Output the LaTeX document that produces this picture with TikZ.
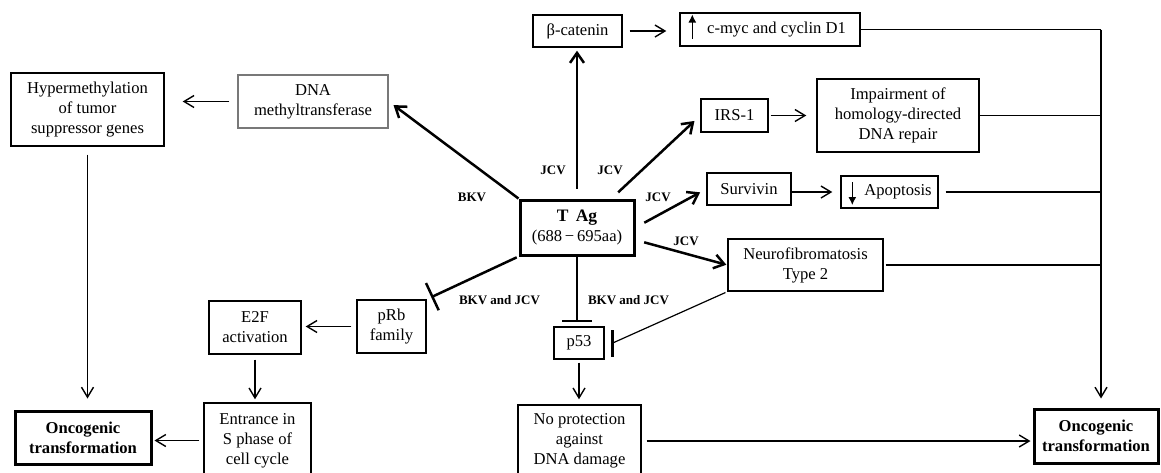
\documentclass[tikz,border=0pt]{standalone}
\usepackage{fontspec}
\setmainfont{Liberation Serif}
\usetikzlibrary{arrows.meta}
\begin{document}
\begin{tikzpicture}[x=1pt,y=-1pt,
  box/.style={draw, line width=1.4pt, align=center, inner sep=0pt, font=\fontsize{16.6}{20}\selectfont},
  thickbox/.style={box, line width=3pt},
  grbox/.style={box, draw={rgb,255:red,120;green,120;blue,120}},
  plain/.style={line width=1.4pt},
  arr/.style={line width=1.4pt, -{Straight Barb[length=10pt,width=12pt,line width=1.4pt]}},
  tarr/.style={line width=2.5pt, -{Straight Barb[length=10pt,width=14pt,line width=2.5pt]}},
  inh/.style={line width=2.5pt, -{Bar[width=30pt,line width=2.5pt]}},
  updown/.style={line width=1.2pt, -{Latex[length=8pt,width=8pt]}},
  lab/.style={font=\fontsize{13}{15}\selectfont\bfseries, inner sep=0pt}]
\useasboundingbox (0,0) rectangle (1161,472);

% nodes
\node[box, minimum width=153pt, minimum height=73pt] (hyp) at (87.5,109.5) {Hypermethylation\\of tumor\\suppressor genes};
\node[grbox, minimum width=150pt, minimum height=53pt] (dna) at (313,101.5) {DNA\\methyltransferase};
\node[box, minimum width=89pt, minimum height=32pt] (bcat) at (577.5,31) {β-catenin};
\node[box, minimum width=180pt, minimum height=33pt] (cmyc) at (770,29.5) {\hspace*{13pt}c-myc and cyclin D1};
\node[box, minimum width=67pt, minimum height=33pt] (irs) at (734.5,115.5) {IRS-1};
\node[box, minimum width=162pt, minimum height=73pt] (imp) at (898,115.5) {Impairment of\\homology-directed\\DNA repair};
\node[box, minimum width=84pt, minimum height=32pt] (surv) at (749,189) {Survivin};
\node[box, minimum width=97pt, minimum height=32pt] (apop) at (889.5,192) {\hspace*{17pt}Apoptosis};
\node[box, minimum width=155pt, minimum height=52pt] (neuro) at (805.5,265) {Neurofibromatosis\\Type 2};
\node[thickbox, minimum width=114pt, minimum height=55pt] (tag) at (577,227.5) {{\fontsize{17.5}{20}\selectfont\bfseries T\, Ag}\\(688\,−\,695aa)};
\node[box, minimum width=69pt, minimum height=53pt] (prb) at (391.5,326.5) {pRb\\family};
\node[box, minimum width=92pt, minimum height=53pt] (e2f) at (255,327.5) {E2F\\activation};
\node[box, minimum width=107pt, minimum height=75pt] (entr) at (257.5,440.5) {Entrance in\\S phase of\\cell cycle};
\node[thickbox, minimum width=136pt, minimum height=53pt, font=\fontsize{16.6}{20}\selectfont\bfseries] (oncL) at (83,437.5) {Oncogenic\\transformation};
\node[box, minimum width=50pt, minimum height=32pt] (p53) at (579,343) {p53};
\node[box, minimum width=123pt, minimum height=72pt] (noprot) at (579.5,441) {No protection\\against\\DNA damage};
\node[thickbox, minimum width=124pt, minimum height=54pt, font=\fontsize{16.6}{20}\selectfont\bfseries] (oncR) at (1096,436) {Oncogenic\\transformation};

% small up/down arrows inside boxes
\draw[updown] ([xshift=13pt,yshift=-9pt]cmyc.west) -- ([xshift=13pt,yshift=15pt]cmyc.west);
\draw[updown] ([xshift=12pt,yshift=10pt]apop.west) -- ([xshift=12pt,yshift=-13pt]apop.west);

% labels
\node[lab] (l1) at (472,197) {BKV};
\node[lab] (l2) at (553,170) {JCV};
\node[lab] (l3) at (610,170) {JCV};
\node[lab] (l4) at (658,197) {JCV};
\node[lab] (l5) at (686,241) {JCV};
\node[lab] (l6) at (499.5,300) {BKV and JCV};
\node[lab] (l7) at (628.5,300) {BKV and JCV};

% arrows from T Ag
\draw[tarr, shorten >=6pt] (tag.north west) -- (dna.east);
\draw[tarr, shorten <=10pt, shorten >=3pt] (tag.north) -- (tag.north |- bcat.south);
\draw[tarr, shorten <=9pt, shorten >=8pt] (tag.40) -- (irs.west);
\draw[tarr, shorten <=10pt, shorten >=7pt] (tag.east) -- (surv.west);
\draw[tarr, shorten <=9pt, shorten >=1pt] (tag.-12) -- (neuro.west);
\draw[inh, shorten <=2pt, shorten >=5pt] (tag.south west) -- (prb.north east);
\draw[inh, shorten >=4pt] (tag.south) -- (tag.south |- p53.north);

% Neuro -| p53
\coordinate (nbar) at ([xshift=8pt]p53.east);
\draw[line width=1.2pt, shorten <=2pt] (neuro.south west) -- (nbar);
\draw[line width=2.5pt] ([yshift=13pt]nbar) -- ([yshift=-14pt]nbar);

% other arrows
\draw[arr, shorten <=8pt, shorten >=18pt] (dna.west) -- (dna.west -| hyp.east);
\draw[arr, shorten <=8pt, shorten >=11pt] (hyp.south) -- (hyp.south |- oncL.north);
\draw[arr, shorten <=7pt, shorten >=13pt] (bcat.east) -- (bcat.east -| cmyc.west);
\draw[arr, shorten <=2pt, shorten >=10pt] (irs.east) -- (irs.east -| imp.west);
\draw[arr, shorten <=5pt, shorten >=8pt] (surv.east) -- (surv.east |- apop.west) -- (apop.west);
\draw[arr, shorten <=5pt, shorten >=4pt] (prb.west) -- (prb.west -| e2f.east);
\draw[arr, shorten <=5pt, shorten >=3pt] (e2f.south) -- (e2f.south |- entr.north);
\draw[arr, shorten <=4pt, shorten >=2pt] (entr.west) -- (entr.west -| oncL.east);
\draw[arr, shorten <=3pt, shorten >=5pt] (p53.south) -- (p53.south |- noprot.north);
\draw[arr, shorten <=5pt, shorten >=2pt] (noprot.east) -- (noprot.east -| oncR.west);

% right rail
\coordinate (rail) at (1101,0);
\draw[plain] (cmyc.east) -- (cmyc.east -| rail);
\draw[plain] (imp.east) -- (imp.east -| rail);
\draw[plain, shorten <=7pt] (apop.east) -- (apop.east -| rail);
\draw[plain, shorten <=2pt] (neuro.east) -- (neuro.east -| rail);
\draw[arr, shorten >=9pt] (cmyc.east -| rail) -- (rail |- oncR.north);
\end{tikzpicture}
\end{document}
